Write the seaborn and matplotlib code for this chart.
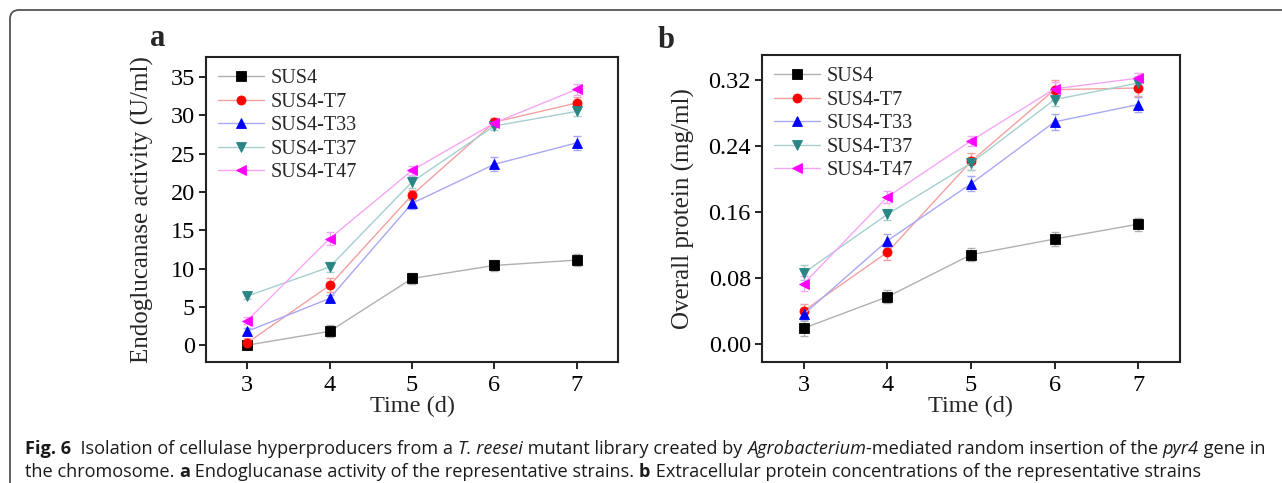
import numpy as np
import pandas as pd
import matplotlib
matplotlib.use("Agg")
import matplotlib.pyplot as plt
import matplotlib.transforms as mtransforms
from matplotlib.patches import FancyBboxPatch
import seaborn as sns

# --- data ---
days = [3, 4, 5, 6, 7]
strains = ["SUS4", "SUS4-T7", "SUS4-T33", "SUS4-T37", "SUS4-T47"]

# panel a: endoglucanase activity (U/ml)
egl_sus4 = [0.0, 1.8, 8.7, 10.4, 11.1]
egl_t7 = [0.3, 7.8, 19.6, 29.1, 31.6]
egl_t33 = [1.8, 6.1, 18.5, 23.6, 26.4]
egl_t37 = [6.4, 10.2, 21.3, 28.6, 30.5]
egl_t47 = [3.2, 13.9, 22.8, 29.0, 33.4]
egl_err_sus4 = [0.4, 0.8, 0.7, 0.7, 0.8]
egl_err_t7 = [0.6, 0.9, 0.7, 0.5, 0.8]
egl_err_t33 = [0.4, 0.5, 0.7, 0.9, 0.9]
egl_err_t37 = [0.4, 0.7, 0.8, 0.5, 0.6]
egl_err_t47 = [0.5, 0.8, 0.6, 0.5, 0.7]

# panel b: overall protein (mg/ml)
prot_sus4 = [0.019, 0.057, 0.108, 0.127, 0.145]
prot_t7 = [0.040, 0.111, 0.221, 0.308, 0.310]
prot_t33 = [0.036, 0.125, 0.194, 0.269, 0.290]
prot_t37 = [0.086, 0.157, 0.219, 0.296, 0.316]
prot_t47 = [0.073, 0.178, 0.246, 0.309, 0.322]
prot_err_sus4 = [0.009, 0.008, 0.008, 0.008, 0.008]
prot_err_t7 = [0.008, 0.009, 0.010, 0.012, 0.010]
prot_err_t33 = [0.007, 0.008, 0.009, 0.010, 0.009]
prot_err_t37 = [0.009, 0.007, 0.008, 0.008, 0.008]
prot_err_t47 = [0.009, 0.007, 0.006, 0.008, 0.006]

marker_colors = ["#000000", "#FF0000", "#0000FF", "#2A8585", "#FF00FF"]
line_colors = ["#B0B0B0", "#F4A0A0", "#A8A8F4", "#A6CFCF", "#F6A6F6"]
markers = ["s", "o", "^", "v", "<"]


def long_df(values):
    rows = []
    for name, vals in zip(strains, values):
        for d, v in zip(days, vals):
            rows.append({"Time": d, "value": v, "strain": name})
    return pd.DataFrame(rows)


sns.set_style("ticks")
plt.rcParams["font.family"] = ["Liberation Serif", "DejaVu Serif"]

fig = plt.figure(figsize=(12.82, 4.83), dpi=100)

ax_a = fig.add_axes([0.1607, 0.2505, 0.3214, 0.6315])
ax_b = fig.add_axes([0.5944, 0.2505, 0.3260, 0.6356])


def draw_panel(ax, values, errors, ylim, yticks, yfmt, ylabel, ypad):
    df = long_df(values)
    sns.lineplot(data=df, x="Time", y="value", hue="strain", style="strain",
                 hue_order=strains, style_order=strains,
                 palette=dict(zip(strains, line_colors)),
                 markers=dict(zip(strains, markers)), dashes=False,
                 markersize=6.5, linewidth=1.0, legend=False, ax=ax, zorder=3)
    lines = list(ax.lines)
    for ln, mc in zip(lines, marker_colors):
        ln.set_markerfacecolor(mc)
        ln.set_markeredgecolor(mc)
        ln.set_markeredgewidth(0.6)
    for vals, err, lc in zip(values, errors, line_colors):
        ax.errorbar(days, vals, yerr=err, fmt="none", ecolor=lc,
                    elinewidth=1.0, capsize=3, capthick=1.0, zorder=2)
    ax.set_xlim(2.5, 7.5)
    ax.set_ylim(*ylim)
    ax.set_xticks(days)
    ax.set_yticks(yticks)
    ax.set_yticklabels([yfmt.format(t) for t in yticks])
    ax.set_xlabel("Time (d)", fontsize=17.5, labelpad=0)
    ax.set_ylabel(ylabel, fontsize=18, labelpad=ypad)
    ax.tick_params(axis="both", direction="out", length=5, width=1.2,
                   labelsize=17.5, colors="black", pad=3)
    ax.tick_params(axis="x", pad=4)
    for sp in ax.spines.values():
        sp.set_visible(True)
        sp.set_linewidth(1.5)
        sp.set_color("#222222")
    ax.legend(handles=lines, labels=strains, loc="upper left", frameon=False,
              fontsize=14.5, handlelength=2.3, handletextpad=0.3,
              labelspacing=0.22, borderaxespad=0.2,
              bbox_to_anchor=(0.0, 1.0))


draw_panel(ax_a,
           [egl_sus4, egl_t7, egl_t33, egl_t37, egl_t47],
           [egl_err_sus4, egl_err_t7, egl_err_t33, egl_err_t37, egl_err_t47],
           (-2.2, 37.6), [0, 5, 10, 15, 20, 25, 30, 35], "{:g}",
           "Endoglucanase activity (U/ml)", 12)
draw_panel(ax_b,
           [prot_sus4, prot_t7, prot_t33, prot_t37, prot_t47],
           [prot_err_sus4, prot_err_t7, prot_err_t33, prot_err_t37, prot_err_t47],
           (-0.022, 0.350), [0.0, 0.08, 0.16, 0.24, 0.32], "{:.2f}",
           "Overall protein (mg/ml)", 10)

fig.text(158 / 1282, 1 - 38 / 483, "a", fontsize=22, fontweight="bold",
         ha="center", va="center")
fig.text(666 / 1282, 1 - 40 / 483, "b", fontsize=22, fontweight="bold",
         ha="center", va="center")

# rounded frame, open towards the right and bottom edges
ident = mtransforms.IdentityTransform()
frame = FancyBboxPatch((10, -40), 1320, 483 - 10 + 40,
                       boxstyle="round,pad=0,rounding_size=9",
                       transform=ident, facecolor="none",
                       edgecolor="#555555", linewidth=1.3)
fig.patches.append(frame)

# caption with mixed styles
cap_family = ["Liberation Sans Narrow", "Open Sans", "DejaVu Sans"]
cap_size = 13.1
renderer = fig.canvas.get_renderer()


def draw_runs(runs, x0, y):
    x = x0
    for txt, weight, style in runs:
        t = fig.text(x, y, txt, transform=ident, fontsize=cap_size,
                     family=cap_family, fontweight=weight, fontstyle=style,
                     color="#1A1A1A", ha="left", va="baseline")
        x += t.get_window_extent(renderer).width


line1 = [("Fig. 6", "bold", "normal"),
         ("  Isolation of cellulase hyperproducers from a ", "normal", "normal"),
         ("T. reesei", "normal", "italic"),
         (" mutant library created by ", "normal", "normal"),
         ("Agrobacterium", "normal", "italic"),
         ("-mediated random insertion of the ", "normal", "normal"),
         ("pyr4", "normal", "italic"),
         (" gene in", "normal", "normal")]
line2 = [("the chromosome. ", "normal", "normal"),
         ("a", "bold", "normal"),
         (" Endoglucanase activity of the representative strains. ", "normal", "normal"),
         ("b", "bold", "normal"),
         (" Extracellular protein concentrations of the representative strains",
          "normal", "normal")]
draw_runs(line1, 25, 483 - 454)
draw_runs(line2, 25, 483 - 477)

fig.savefig("out.png", dpi=100, facecolor="white")
